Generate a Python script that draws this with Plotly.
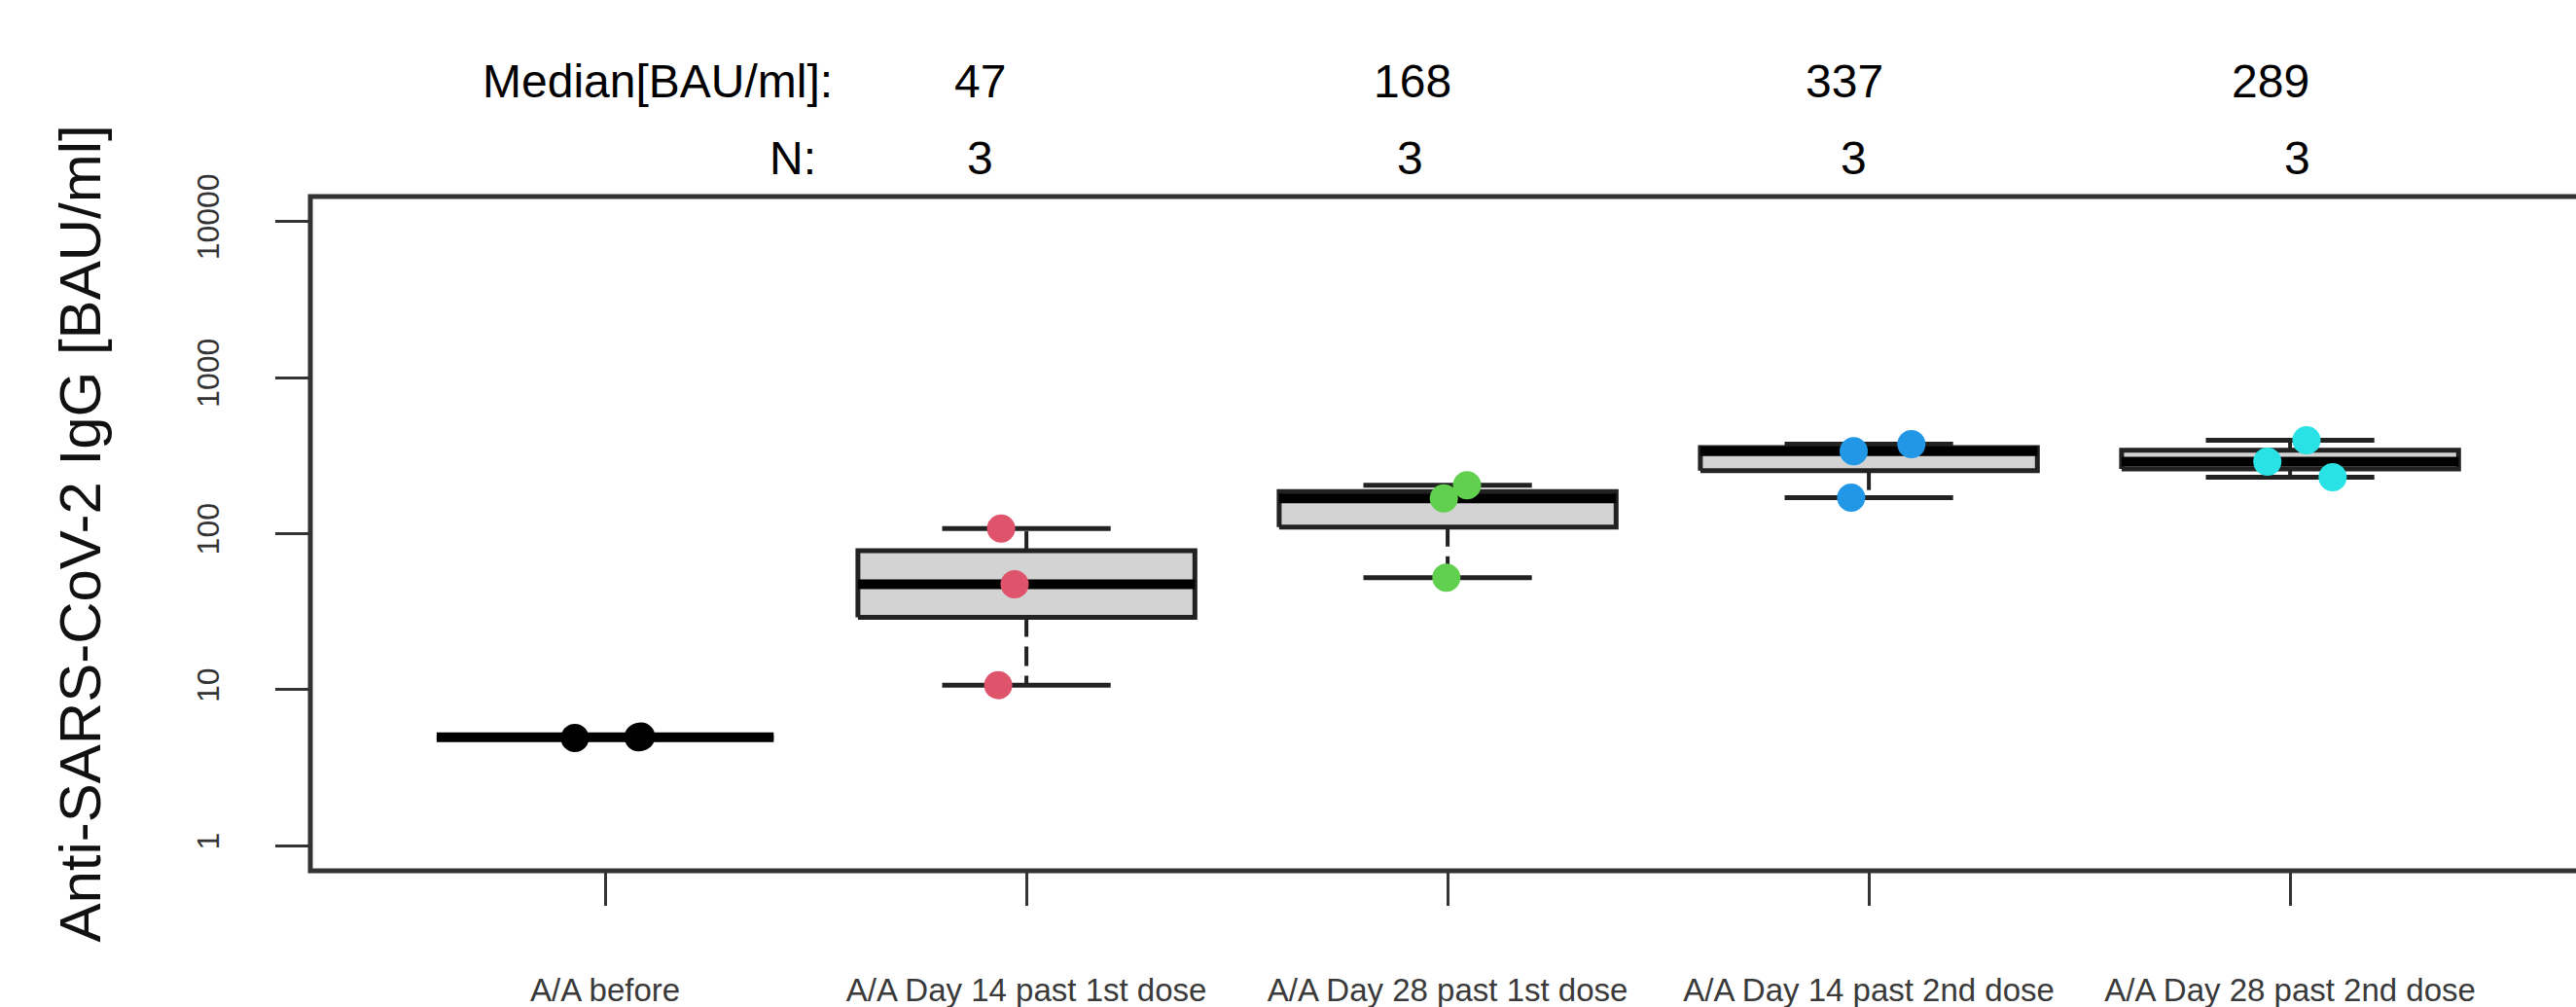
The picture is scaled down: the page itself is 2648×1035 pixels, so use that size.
import numpy as np
import plotly.graph_objects as go

# ---------------- data ----------------
categories = [
    "A/A before",
    "A/A Day 14 past 1st dose",
    "A/A Day 28 past 1st dose",
    "A/A Day 14 past 2nd dose",
    "A/A Day 28 past 2nd dose",
]
values_before = [4.9, 4.96, 5.02]
values_d14_1st = [108.0, 47.4, 10.7]
values_d28_1st = [168.0, 204.0, 52.2]
values_d14_2nd = [337.0, 374.5, 170.0]
values_d28_2nd = [396.7, 289.0, 229.9]
group_values = [values_before, values_d14_1st, values_d28_1st, values_d14_2nd, values_d28_2nd]

# horizontal jitter of the individual points (category units)
jitter_offsets = [
    [-0.072, 0.079, 0.085],
    [-0.060, -0.028, -0.067],
    [-0.009, 0.046, -0.003],
    [-0.036, 0.101, -0.042],
    [0.039, -0.054, 0.101],
]
point_colors = ["#000000", "#DF536B", "#61D04F", "#2297E6", "#28E2E5"]

y_tick_values = [1, 10, 100, 1000, 10000]
y_tick_labels = ["1", "10", "100", "1000", "10000"]
y_title = "Anti-SARS-CoV-2 IgG [BAU/ml]"
median_header = "Median[BAU/ml]:"
n_header = "N:"
annotated_groups = [1, 2, 3, 4]          # groups that carry Median / N labels

# ---------------- layout constants ----------------
W, H = 2648, 1035
ML, MR, MT, MB = 319, 0, 202, 140
PX_PER_CAT = 433.0
X_MIN = 0.3
X_MAX = X_MIN + (W - ML - MR) / PX_PER_CAT
LOG_RANGE = [-0.16, 4.16]
FONT = "Liberation Sans, Arial, Helvetica, sans-serif"
LINE_COL = "#222222"
BOX_HALF = 0.4
CAP_HALF = 0.2
median_label_x = [1.891, 2.917, 3.942, 4.954]
n_label_x = [1.891, 2.910, 3.965, 5.016]
median_header_x = 1.545
n_header_x = 1.505


def fivenum(v):
    v = np.sort(np.asarray(v, dtype=float))
    n = len(v)
    n4 = np.floor((n + 3) / 2) / 2
    d = np.array([1, n4, (n + 1) / 2, n + 1 - n4, n]) - 1
    return 0.5 * (v[np.floor(d).astype(int)] + v[np.ceil(d).astype(int)])


fig = go.Figure()

for gi, vals in enumerate(group_values):
    xc = gi + 1
    arr = np.asarray(vals, dtype=float)
    mn, q1, med, q3, mx = fivenum(arr)
    iqr = q3 - q1
    hi = arr[arr <= q3 + 1.5 * iqr].max()
    lo = arr[arr >= q1 - 1.5 * iqr].min()

    # whiskers (dashed)
    fig.add_trace(go.Scatter(
        x=[xc, xc, None, xc, xc], y=[q3, hi, None, q1, lo], mode="lines",
        line=dict(color=LINE_COL, width=4, dash="20px,10px"),
        hoverinfo="skip", showlegend=False))
    # staples
    fig.add_trace(go.Scatter(
        x=[xc - CAP_HALF, xc + CAP_HALF, None, xc - CAP_HALF, xc + CAP_HALF],
        y=[hi, hi, None, lo, lo], mode="lines",
        line=dict(color=LINE_COL, width=5),
        hoverinfo="skip", showlegend=False))
    # box
    fig.add_trace(go.Scatter(
        x=[xc - BOX_HALF, xc + BOX_HALF, xc + BOX_HALF, xc - BOX_HALF, xc - BOX_HALF],
        y=[q1, q1, q3, q3, q1], mode="lines", fill="toself", fillcolor="#D3D3D3",
        line=dict(color=LINE_COL, width=5),
        hoverinfo="skip", showlegend=False))
    # median
    fig.add_trace(go.Scatter(
        x=[xc - BOX_HALF, xc + BOX_HALF], y=[med, med], mode="lines",
        line=dict(color="#000000", width=10),
        hoverinfo="skip", showlegend=False))
    # points
    fig.add_trace(go.Scatter(
        x=[xc + j for j in jitter_offsets[gi]], y=vals, mode="markers",
        marker=dict(color=point_colors[gi], size=29, line=dict(width=0)),
        name=categories[gi], showlegend=False))

# ---------------- annotations above the plot ----------------
annotations = []
ROW_MED_Y = 1.171
ROW_N_Y = 1.057
annotations.append(dict(text=median_header, x=median_header_x, y=ROW_MED_Y, xref="x",
                        yref="paper", xanchor="right", yanchor="middle", showarrow=False,
                        font=dict(family=FONT, size=48, color="#000000")))
annotations.append(dict(text=n_header, x=n_header_x, y=ROW_N_Y, xref="x",
                        yref="paper", xanchor="right", yanchor="middle", showarrow=False,
                        font=dict(family=FONT, size=48, color="#000000")))
for k, gi in enumerate(annotated_groups):
    med_txt = str(int(round(float(np.median(group_values[gi])))))
    annotations.append(dict(text=med_txt, x=median_label_x[k], y=ROW_MED_Y, xref="x",
                            yref="paper", xanchor="center", yanchor="middle",
                            showarrow=False, font=dict(family=FONT, size=48, color="#000000")))
    annotations.append(dict(text=str(len(group_values[gi])), x=n_label_x[k], y=ROW_N_Y,
                            xref="x", yref="paper", xanchor="center", yanchor="middle",
                            showarrow=False, font=dict(family=FONT, size=48, color="#000000")))

# frame (right side lies outside the picture, as in the reference)
shapes = [dict(type="rect", xref="paper", yref="paper", x0=0, x1=1.02, y0=0, y1=1,
               line=dict(color="#333333", width=5), fillcolor="rgba(0,0,0,0)", layer="above")]

fig.update_layout(
    width=W, height=H,
    margin=dict(l=ML, r=MR, t=MT, b=MB, pad=0),
    paper_bgcolor="white", plot_bgcolor="white",
    font=dict(family=FONT, color="#000000"),
    annotations=annotations, shapes=shapes,
    showlegend=False,
    xaxis=dict(
        range=[X_MIN, X_MAX], tickmode="array", tickvals=list(range(1, len(categories) + 1)),
        ticktext=categories, ticks="outside", ticklen=35, tickwidth=3, tickcolor="#333333",
        showgrid=False, zeroline=False, showline=False,
        tickfont=dict(family=FONT, size=33, color="#3a3a3a"), ticklabelstandoff=58,
        fixedrange=True),
    yaxis=dict(
        type="log", range=LOG_RANGE, tickmode="array", tickvals=y_tick_values,
        ticktext=y_tick_labels, tickangle=-90, ticks="outside", ticklen=35, tickwidth=3,
        tickcolor="#333333", showgrid=False, zeroline=False, showline=False,
        tickfont=dict(family=FONT, size=32, color="#333333"), ticklabelstandoff=45,
        title=dict(text=y_title, font=dict(family=FONT, size=60, color="#111111"), standoff=73),
        fixedrange=True),
)

fig.write_html("out.html")
